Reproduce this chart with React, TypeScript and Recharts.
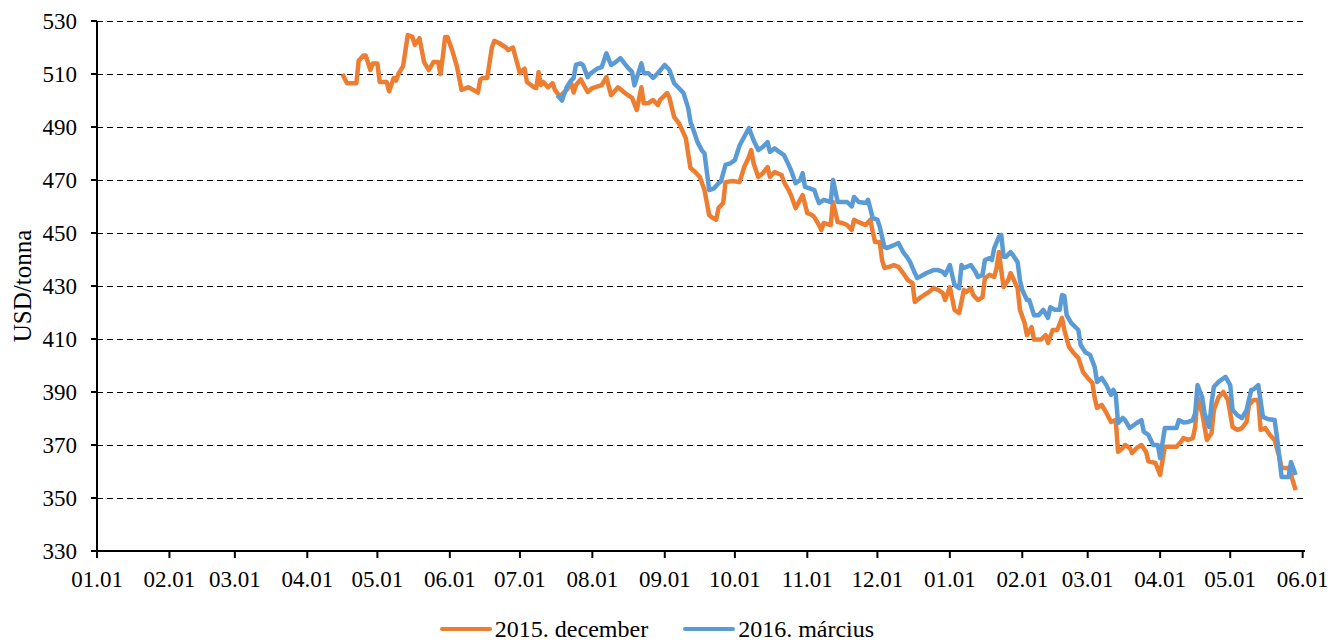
import {
  LineChart,
  Line,
  XAxis,
  YAxis,
  CartesianGrid,
  Legend,
} from "recharts";

const FONT = '"Liberation Serif", "Times New Roman", serif';
const ORANGE = "#ED7D31";
const BLUE = "#5B9BD5";

const seriesNames = ["2015. december", "2016. március"];

const monthTicks = [
  "2014-01-01", "2014-02-01", "2014-03-01", "2014-04-01", "2014-05-01",
  "2014-06-01", "2014-07-01", "2014-08-01", "2014-09-01", "2014-10-01",
  "2014-11-01", "2014-12-01", "2015-01-01", "2015-02-01", "2015-03-01",
  "2015-04-01", "2015-05-01", "2015-06-01",
];

const yTicks = [330, 350, 370, 390, 410, 430, 450, 470, 490, 510, 530];

// 2015. december contract
const decDates = [
  "2014-04-16", "2014-04-18", "2014-04-22", "2014-04-23", "2014-04-25", "2014-04-26", "2014-04-28", "2014-04-29",
  "2014-05-01", "2014-05-02", "2014-05-05", "2014-05-06", "2014-05-08", "2014-05-09", "2014-05-10", "2014-05-12",
  "2014-05-14", "2014-05-16", "2014-05-17", "2014-05-19", "2014-05-21", "2014-05-23", "2014-05-25", "2014-05-27",
  "2014-05-28", "2014-05-29", "2014-05-30", "2014-05-31", "2014-06-02", "2014-06-04", "2014-06-06", "2014-06-08",
  "2014-06-09", "2014-06-11", "2014-06-13", "2014-06-14", "2014-06-15", "2014-06-17", "2014-06-19", "2014-06-20",
  "2014-06-22", "2014-06-25", "2014-06-26", "2014-06-28", "2014-06-30", "2014-07-01", "2014-07-03", "2014-07-04",
  "2014-07-07", "2014-07-08", "2014-07-09", "2014-07-10", "2014-07-11", "2014-07-13", "2014-07-15", "2014-07-16",
  "2014-07-18", "2014-07-21", "2014-07-23", "2014-07-24", "2014-07-25", "2014-07-27", "2014-07-30", "2014-08-01",
  "2014-08-05", "2014-08-07", "2014-08-09", "2014-08-11", "2014-08-12", "2014-08-15", "2014-08-18", "2014-08-20",
  "2014-08-22", "2014-08-23", "2014-08-25", "2014-08-27", "2014-08-29", "2014-08-30", "2014-09-02", "2014-09-03",
  "2014-09-05", "2014-09-07", "2014-09-08", "2014-09-10", "2014-09-11", "2014-09-12", "2014-09-14", "2014-09-16",
  "2014-09-18", "2014-09-20", "2014-09-21", "2014-09-23", "2014-09-24", "2014-09-26", "2014-09-27", "2014-09-30",
  "2014-10-03", "2014-10-05", "2014-10-07", "2014-10-08", "2014-10-09", "2014-10-11", "2014-10-13", "2014-10-15",
  "2014-10-16", "2014-10-18", "2014-10-21", "2014-10-22", "2014-10-24", "2014-10-25", "2014-10-27", "2014-10-30",
  "2014-11-01", "2014-11-03", "2014-11-04", "2014-11-06", "2014-11-07", "2014-11-08", "2014-11-11", "2014-11-12",
  "2014-11-14", "2014-11-16", "2014-11-18", "2014-11-20", "2014-11-21", "2014-11-23", "2014-11-26", "2014-11-28",
  "2014-11-29", "2014-11-30", "2014-12-02", "2014-12-03", "2014-12-04", "2014-12-06", "2014-12-08", "2014-12-10",
  "2014-12-12", "2014-12-14", "2014-12-16", "2014-12-17", "2014-12-19", "2014-12-21", "2014-12-23", "2014-12-25",
  "2014-12-27", "2014-12-29", "2014-12-30", "2015-01-01", "2015-01-03", "2015-01-05", "2015-01-07", "2015-01-08",
  "2015-01-10", "2015-01-11", "2015-01-13", "2015-01-15", "2015-01-16", "2015-01-18", "2015-01-20", "2015-01-21",
  "2015-01-22", "2015-01-23", "2015-01-24", "2015-01-26", "2015-01-27", "2015-01-28", "2015-01-30", "2015-01-31",
  "2015-02-02", "2015-02-03", "2015-02-05", "2015-02-06", "2015-02-09", "2015-02-11", "2015-02-12", "2015-02-14",
  "2015-02-16", "2015-02-18", "2015-02-19", "2015-02-21", "2015-02-23", "2015-02-25", "2015-02-27", "2015-03-01",
  "2015-03-03", "2015-03-04", "2015-03-05", "2015-03-07", "2015-03-09", "2015-03-11", "2015-03-13", "2015-03-14",
  "2015-03-16", "2015-03-17", "2015-03-19", "2015-03-20", "2015-03-22", "2015-03-24", "2015-03-26", "2015-03-27",
  "2015-03-30", "2015-04-01", "2015-04-03", "2015-04-05", "2015-04-08", "2015-04-10", "2015-04-11", "2015-04-13",
  "2015-04-15", "2015-04-16", "2015-04-17", "2015-04-19", "2015-04-21", "2015-04-23", "2015-04-24", "2015-04-26",
  "2015-04-28", "2015-04-30", "2015-05-02", "2015-05-04", "2015-05-06", "2015-05-08", "2015-05-09", "2015-05-11",
  "2015-05-13", "2015-05-14", "2015-05-16", "2015-05-18", "2015-05-20", "2015-05-22", "2015-05-23", "2015-05-26",
  "2015-05-27", "2015-05-29",
];
const decValues = [
  510, 506.5, 506.5, 515, 517, 517, 511.5, 514,
  514, 507, 507, 503.5, 508.5, 507.5, 510, 513,
  524.7, 524, 521, 523.5, 514.5, 511.5, 514.5, 514.5,
  510, 516.5, 524, 524, 519, 513, 504, 504.7,
  505, 504, 503, 507.8, 508.5, 508.5, 520, 522.5,
  521.7, 520, 519, 520, 513.5, 510.3, 512, 507,
  505, 504.7, 510.7, 505.8, 507, 505, 506.5, 504,
  501.5, 504, 506.5, 503, 505.8, 508, 503.2, 504.7,
  505.8, 508.8, 502, 504, 505, 502.8, 501, 496.4,
  505, 499, 499, 500.2, 498.3, 500.2, 502.8, 501,
  493.8, 491.5, 489.6, 485.8, 480, 474.5, 473, 471.1,
  466.2, 456.8, 456, 455, 459.4, 461.3, 469.2, 469.6,
  469.2, 474.9, 478.7, 481.3, 476.3, 471.1, 472.6, 474.9,
  471.1, 473, 471.9, 469.2, 466.2, 464.3, 459.4, 464.3,
  457.5, 456.8, 456, 453, 451.1, 453.8, 453, 461.7,
  454.1, 453.8, 453, 451.1, 455, 454.1, 453, 455,
  450.4, 446.6, 446.6, 439.8, 436.8, 437.2, 437.9, 437.2,
  434.9, 432.3, 431.1, 424, 425.4, 426.6, 427.7, 429.2,
  428.5, 427.3, 424.7, 429.6, 421, 419.8, 428.5, 427.7,
  429.2, 426.6, 424.7, 425.8, 433, 434.2, 433.4, 436.8,
  442.8, 436, 429.6, 432.3, 434.9, 433, 429.2, 421,
  416, 411.5, 414.5, 409.8, 409.8, 411.5, 408.5, 413.4,
  413.4, 418, 413.4, 407, 404.7, 402.8, 397.5, 395.3,
  393.4, 387.7, 384, 385.1, 382.1, 378.7, 379.4, 367.4,
  368.9, 370, 368.9, 367, 368.9, 370, 367.4, 363.8,
  363.2, 358.7, 369.3, 369.3, 369.3, 371.3, 372.6, 371.9,
  372.6, 376.8, 388, 382, 371.9, 374.5, 383.2, 388,
  390, 387, 376.8, 375.7, 376.4, 378.7, 385.1, 387,
  387, 375.7, 376.4, 373.8, 371.9, 365.5, 361.3, 361.3,
  358.7, 353,
];

// 2016. március contract
const marDates = [
  "2014-07-17", "2014-07-19", "2014-07-21", "2014-07-23", "2014-07-24", "2014-07-25", "2014-07-27", "2014-07-28",
  "2014-07-30", "2014-07-31", "2014-08-03", "2014-08-05", "2014-08-07", "2014-08-09", "2014-08-11", "2014-08-13",
  "2014-08-16", "2014-08-18", "2014-08-19", "2014-08-22", "2014-08-23", "2014-08-25", "2014-08-27", "2014-08-29",
  "2014-09-01", "2014-09-03", "2014-09-05", "2014-09-07", "2014-09-09", "2014-09-11", "2014-09-12", "2014-09-14",
  "2014-09-15", "2014-09-17", "2014-09-18", "2014-09-20", "2014-09-22", "2014-09-24", "2014-09-25", "2014-09-27",
  "2014-09-29", "2014-10-01", "2014-10-03", "2014-10-05", "2014-10-07", "2014-10-09", "2014-10-11", "2014-10-13",
  "2014-10-15", "2014-10-16", "2014-10-18", "2014-10-20", "2014-10-22", "2014-10-24", "2014-10-25", "2014-10-27",
  "2014-10-29", "2014-10-30", "2014-10-31", "2014-11-02", "2014-11-04", "2014-11-05", "2014-11-06", "2014-11-08",
  "2014-11-11", "2014-11-12", "2014-11-14", "2014-11-16", "2014-11-18", "2014-11-20", "2014-11-21", "2014-11-23",
  "2014-11-26", "2014-11-27", "2014-11-29", "2014-12-01", "2014-12-02", "2014-12-04", "2014-12-05", "2014-12-08",
  "2014-12-10", "2014-12-12", "2014-12-14", "2014-12-15", "2014-12-17", "2014-12-18", "2014-12-19", "2014-12-22",
  "2014-12-25", "2014-12-27", "2014-12-29", "2014-12-30", "2015-01-01", "2015-01-03", "2015-01-05", "2015-01-06",
  "2015-01-07", "2015-01-10", "2015-01-12", "2015-01-13", "2015-01-15", "2015-01-16", "2015-01-18", "2015-01-19",
  "2015-01-20", "2015-01-22", "2015-01-23", "2015-01-24", "2015-01-25", "2015-01-27", "2015-01-28", "2015-01-30",
  "2015-01-31", "2015-02-01", "2015-02-03", "2015-02-04", "2015-02-06", "2015-02-08", "2015-02-10", "2015-02-12",
  "2015-02-13", "2015-02-15", "2015-02-17", "2015-02-18", "2015-02-19", "2015-02-20", "2015-02-22", "2015-02-25",
  "2015-02-26", "2015-02-28", "2015-03-02", "2015-03-04", "2015-03-05", "2015-03-07", "2015-03-09", "2015-03-11",
  "2015-03-12", "2015-03-13", "2015-03-14", "2015-03-16", "2015-03-17", "2015-03-19", "2015-03-22", "2015-03-24",
  "2015-03-25", "2015-03-27", "2015-03-29", "2015-03-31", "2015-04-01", "2015-04-03", "2015-04-05", "2015-04-08",
  "2015-04-09", "2015-04-11", "2015-04-13", "2015-04-15", "2015-04-16", "2015-04-17", "2015-04-19", "2015-04-20",
  "2015-04-22", "2015-04-23", "2015-04-24", "2015-04-26", "2015-04-29", "2015-05-01", "2015-05-02", "2015-05-04",
  "2015-05-06", "2015-05-08", "2015-05-10", "2015-05-11", "2015-05-13", "2015-05-15", "2015-05-17", "2015-05-20",
  "2015-05-21", "2015-05-23", "2015-05-26", "2015-05-27", "2015-05-29",
];
const marValues = [
  502, 500, 505, 507.7, 508.5, 513.5, 514, 513.4,
  508.8, 510, 512, 512.6, 517.8, 513.4, 514.5, 516,
  512.6, 510.8, 505.7, 514, 510.3, 510.3, 508.5, 510.3,
  513.4, 511.5, 506.5, 504.7, 502.8, 497.2, 492, 487,
  484.3, 481, 480, 466.2, 466.8, 468.8, 469.4, 475.7,
  476.3, 477.5, 483, 486.3, 489.6, 485, 481.3, 482.5,
  484.3, 480.6, 482, 480.6, 479.4, 475.7, 473.8, 468.8,
  470, 472.6, 467.4, 466.8, 466.2, 463.6, 461.3, 462.5,
  461.7, 470, 461.7, 461.7, 461.7, 460, 463.6, 461.7,
  461.3, 462.5, 455.6, 455, 452.3, 444.7, 444.3, 445.4,
  446.2, 442.8, 440.5, 439, 434.9, 433, 433.4, 434.9,
  436, 436, 435.3, 434.2, 437.9, 430.4, 429.2, 437.9,
  436.8, 437.9, 435.3, 433.4, 434.2, 439.8, 440.5, 439.8,
  444.3, 448.5, 449.3, 441, 441, 442.8, 441.7, 439,
  432.3, 428.5, 424.7, 424.7, 419, 419, 421, 418,
  422, 421, 421, 426.6, 426.3, 419, 416, 413.4,
  407.7, 405, 404, 399.4, 393.8, 395.3, 392.6, 388.9,
  390.8, 388.9, 378.3, 380.2, 379.4, 376.4, 378.3, 379.4,
  375, 373.8, 370, 370, 365.1, 376.4, 376.4, 376.4,
  379.4, 378.5, 378.7, 379.4, 382, 392.6, 388, 382,
  376.8, 385.8, 392, 393.8, 395.7, 392.6, 383.2, 381.3,
  380.2, 383.2, 390.8, 391, 392.6, 380.6, 379.8, 379.4,
  373, 357.9, 357.9, 363.6, 358.7,
];

const decData = decDates.map((d, i) => ({ t: Date.parse(d), v: decValues[i] }));
const marData = marDates.map((d, i) => ({ t: Date.parse(d), v: marValues[i] }));
const xTicks = monthTicks.map((d) => Date.parse(d));

const pad = (n: number) => (n < 10 ? "0" + n : "" + n);
const formatTick = (t: number) => {
  const d = new Date(t);
  return `${pad(d.getUTCMonth() + 1)}.${pad(d.getUTCDate())}`;
};

const YLabel = (props: any) => {
  const vb = props.viewBox || { x: 0, y: 0, height: 0 };
  const x = vb.x + 22;
  const y = vb.y + vb.height / 2;
  return (
    <text
      x={x}
      y={y}
      transform={`rotate(-90 ${x} ${y})`}
      textAnchor="middle"
      dominantBaseline="central"
      fontFamily={FONT}
      fontSize={25}
      fill="#000"
    >
      USD/tonna
    </text>
  );
};

const renderLegend = () => (
  <div
    style={{
      display: "flex",
      justifyContent: "center",
      alignItems: "center",
      height: 26,
      fontFamily: FONT,
      fontSize: 24,
      color: "#000",
    }}
  >
    {[ORANGE, BLUE].map((c, i) => (
      <div
        key={seriesNames[i]}
        style={{ display: "flex", alignItems: "center", marginLeft: i ? 35 : 0 }}
      >
        <span
          style={{
            display: "inline-block",
            width: 52,
            height: 4,
            borderRadius: 2,
            background: c,
            marginRight: 3,
          }}
        />
        <span>{seriesNames[i]}</span>
      </div>
    ))}
  </div>
);

export default function App() {
  const tickStyle = { fontFamily: FONT, fontSize: 23, fill: "#000" };
  return (
    <div style={{ position: "absolute", left: 0, top: 0, background: "#fff" }}>
      <LineChart
        width={1331}
        height={642}
        margin={{ top: 21, right: 26, bottom: 25, left: 0 }}
      >
        <CartesianGrid
          vertical={false}
          stroke="#000"
          strokeDasharray="6 4"
          strokeWidth={1}
          shapeRendering="crispEdges"
        />
        <XAxis
          type="number"
          dataKey="t"
          domain={[Date.parse("2014-01-01"), Date.parse("2015-06-02")]}
          ticks={xTicks}
          tickFormatter={formatTick}
          allowDataOverflow
          height={40}
          tick={tickStyle}
          tickSize={7}
          tickMargin={13}
          axisLine={{ stroke: "#000", strokeWidth: 2 }}
          tickLine={{ stroke: "#000", strokeWidth: 2 }}
        />
        <YAxis
          type="number"
          domain={[330, 530]}
          ticks={yTicks}
          width={97}
          tick={tickStyle}
          tickSize={6}
          tickMargin={14}
          axisLine={{ stroke: "#000", strokeWidth: 2 }}
          tickLine={{ stroke: "#000", strokeWidth: 2 }}
          label={<YLabel />}
        />
        <Legend
          content={renderLegend}
          verticalAlign="bottom"
          wrapperStyle={{ left: 0, width: 1314, bottom: 0 }}
        />
        <Line
          data={decData}
          dataKey="v"
          name={seriesNames[0]}
          stroke={ORANGE}
          strokeWidth={4.5}
          dot={false}
          isAnimationActive={false}
          strokeLinejoin="round"
        />
        <Line
          data={marData}
          dataKey="v"
          name={seriesNames[1]}
          stroke={BLUE}
          strokeWidth={4.5}
          dot={false}
          isAnimationActive={false}
          strokeLinejoin="round"
        />
      </LineChart>
    </div>
  );
}
